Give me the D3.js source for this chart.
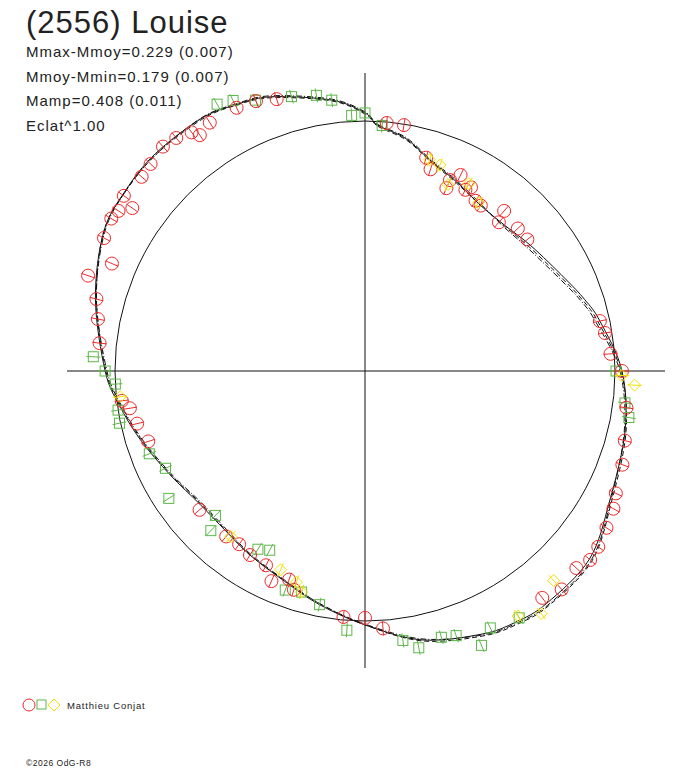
<!DOCTYPE html>
<html>
<head>
<meta charset="UTF-8">
<style>
  body { margin: 0; background: #fff; }
  text { font-family: "Liberation Sans", Arial, sans-serif; fill: #222; }
</style>
</head>
<body>
<svg></svg>
<script src="https://d3js.org/d3.v7.min.js"></script>
<script>
// model curves: [phase in degrees, magnitude above mean]
let curveSolid = [[0,0.031],[3,-0.015],[10,-0.054],[17,-0.112],[26,-0.154],[35,-0.185],[44,-0.185],[53,-0.162],[65,-0.115],[72,-0.073],[78,-0.038],[90,0.027],[103,0.065],[118,0.104],[130,0.165],[142,0.173],[149,0.165],[156,0.146],[168,0.096],[180,0.015],[191,-0.046],[201,-0.096],[212,-0.127],[221,-0.146],[231,-0.146],[242,-0.112],[253,-0.058],[262,-0.008],[270,0.038],[285,0.112],[298,0.177],[307,0.192],[316,0.200],[327,0.196],[334,0.177],[341,0.154],[353,0.088]];
let curveDashed = [[0,0.027],[3,-0.019],[10,-0.058],[17,-0.115],[26,-0.158],[35,-0.185],[44,-0.188],[53,-0.170],[65,-0.123],[72,-0.081],[78,-0.046],[90,0.023],[103,0.069],[118,0.112],[130,0.177],[142,0.185],[149,0.175],[156,0.154],[168,0.100],[180,0.015],[191,-0.050],[201,-0.098],[212,-0.127],[221,-0.148],[231,-0.150],[242,-0.115],[253,-0.062],[262,-0.012],[270,0.035],[285,0.108],[298,0.177],[307,0.190],[316,0.196],[327,0.192],[334,0.175],[341,0.150],[353,0.085]];
let curveDashDot = [[0,0.035],[3,-0.012],[10,-0.050],[17,-0.108],[26,-0.150],[35,-0.181],[44,-0.192],[53,-0.177],[65,-0.131],[72,-0.088],[78,-0.054],[90,0.019],[103,0.062],[118,0.108],[130,0.173],[142,0.181],[149,0.170],[156,0.150],[168,0.092],[180,0.012],[191,-0.050],[201,-0.100],[212,-0.131],[221,-0.152],[231,-0.154],[242,-0.118],[253,-0.065],[262,-0.015],[270,0.031],[285,0.108],[298,0.173],[307,0.190],[316,0.196],[327,0.198],[334,0.180],[341,0.158],[353,0.092]];

// observations: [phase in degrees, magnitude above mean]
let obsRed = [[289,0.165],[293,0.096],[297,0.165],[285,0.108],[281,0.085],[276,0.065],[301,0.177],[303,0.169],[306,0.185],[305,0.131],[311,0.177],[314,0.185],[318,0.200],[321,0.192],[324,0.173],[325,0.146],[328,0.165],[334,0.165],[338,0.158],[342,0.138],
  [9,-0.004],[5,-0.004],[16,-0.108],[18,-0.146],[24,-0.158],[24,-0.192],[26,-0.123],[29,-0.165],[33,-0.181],[35,-0.185],[30,-0.146],[42,-0.192],[41,-0.146],[47,-0.158],[51,-0.158],[78,-0.038],[81,-0.027],[86,-0.015],[90,0.027],
  [98,0.054],[105,0.073],[110,0.092],[116,0.112],[119,0.131],[123,0.146],[127,0.162],[130,0.169],[133,0.150],[138,0.169],[142,0.146],
  [180,-0.012],[185,-0.012],[176,0.031],
  [204,-0.077],[198,-0.077],[200,-0.108],[207,-0.123],[212,-0.127],[216,-0.138],[220,-0.131],[230,-0.131],[252,-0.085],[257,-0.062],[261,-0.046],[263,-0.019]];
let obsGreen = [[273,0.085],[270,0.038],[267,0],[261,0],[258,0.004],[249,-0.073],[244,-0.108],[237,-0.062],[226,-0.162],[224,-0.108],[211,-0.162],[208,-0.181],[200,-0.065],[196,-0.077],[191,-0.046],[184,0.038],
  [172,0.085],[169,0.123],[164,0.104],[161,0.115],[157,0.185],[154,0.138],[148,0.158],[90,0.004],[97,0.046],[100,0.069],
  [331,0.212],[334,0.196],[338,0.162],[345,0.131],[350,0.115],[353,0.088],[357,0.023],[0,0.031],[4,-0.015]];
let obsYellow = [[17,-0.112],[20,-0.119],[24,-0.177],[29,-0.138],[34,-0.181],[91,0.027],[93,0.077],[264,-0.015],[219,-0.142],[203,-0.131],[198,-0.108],[196,-0.077],[138,0.123],[144,0.192],[148,0.150]];

let titleText = "(2556) Louise";
let infoLines = ["Mmax-Mmoy=0.229 (0.007)", "Mmoy-Mmin=0.179 (0.007)", "Mamp=0.408 (0.011)", "Eclat^1.00"];
let observer = "Matthieu Conjat";

let width = 688, height = 768;
let cx = 365, cy = 371, r0 = 250;
let svg = d3.select("svg").attr("width", width).attr("height", height);

// magnitude -> radius (px)
let rScale = d3.scaleLinear().domain([0, 0.408]).range([r0, r0 + 106]);
let rad = d => d * Math.PI / 180;

let g = svg.append("g").attr("transform", "translate(" + cx + "," + cy + ")");

// axes
g.append("line").attr("x1", -298).attr("x2", 300).attr("y1", 0).attr("y2", 0).attr("stroke", "#111");
g.append("line").attr("y1", -298).attr("y2", 297).attr("x1", 0).attr("x2", 0).attr("stroke", "#111");
// reference circle
g.append("circle").attr("r", r0).attr("fill", "none").attr("stroke", "#111");

let radial = d3.lineRadial()
    .angle(d => rad(d[0]))
    .radius(d => rScale(d[1]))
    .curve(d3.curveCardinalClosed);

[[curveSolid, null], [curveDashed, "5,3"], [curveDashDot, "6,2,1,2"]].forEach(c => {
    g.append("path").attr("d", radial(c[0])).attr("fill", "none")
        .attr("stroke", "#111").attr("stroke-width", 1)
        .attr("stroke-dasharray", c[1]);
});

function pos(d, extra) {
    let r = rScale(d[1]) + (extra || 0), a = rad(d[0]);
    return [r * Math.sin(a), -r * Math.cos(a)];
}

function drawObs(data, color, shape) {
    let sel = g.append("g").selectAll("g").data(data).enter().append("g")
        .attr("transform", d => "translate(" + pos(d) + ")");
    // radial error bar
    sel.append("line")
        .attr("x1", d => pos(d, -7)[0] - pos(d)[0]).attr("y1", d => pos(d, -7)[1] - pos(d)[1])
        .attr("x2", d => pos(d, 7)[0] - pos(d)[0]).attr("y2", d => pos(d, 7)[1] - pos(d)[1])
        .attr("stroke", color);
    if (shape === "circle") sel.append("circle").attr("r", 6.5);
    else if (shape === "square") sel.append("rect").attr("x", -5).attr("y", -5).attr("width", 10).attr("height", 10);
    else sel.append("path").attr("d", "M0,-6L6,0L0,6L-6,0Z");
    sel.selectAll("circle,rect,path").attr("fill", "none").attr("stroke", color).attr("stroke-width", 1);
}
drawObs(obsGreen, "#5cb848", "square");
drawObs(obsRed, "#ee2a2a", "circle");
drawObs(obsYellow, "#f2e200", "diamond");

// texts
svg.append("text").attr("x", 26).attr("y", 33).attr("font-size", 31).attr("letter-spacing", 1).text(titleText);
infoLines.forEach((t, i) => {
    svg.append("text").attr("x", 26).attr("y", 57 + i * 24.5).attr("font-size", 15).attr("letter-spacing", 1).text(t);
});

// legend
svg.append("circle").attr("cx", 29).attr("cy", 705).attr("r", 6).attr("fill", "none").attr("stroke", "#ee2a2a");
svg.append("rect").attr("x", 37).attr("y", 700).attr("width", 9).attr("height", 9).attr("fill", "none").attr("stroke", "#5cb848");
svg.append("path").attr("d", "M54,699L60,705L54,711L48,705Z").attr("fill", "none").attr("stroke", "#f2e200");
svg.append("text").attr("x", 67).attr("y", 709).attr("font-size", 9.5).attr("letter-spacing", 0.8).text(observer);
svg.append("text").attr("x", 26).attr("y", 766).attr("font-size", 8.5).attr("letter-spacing", 0.5).text("©2026 OdG-R8");
</script>
</body>
</html>
